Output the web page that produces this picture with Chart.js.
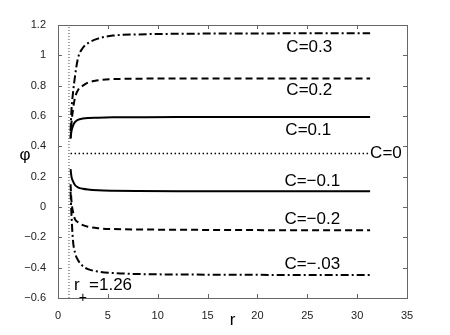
<!DOCTYPE html>
<html lang="en">
<head>
<meta charset="UTF-8">
<title>phi vs r</title>
<script src="https://cdn.jsdelivr.net/npm/chart.js"></script>
<style>
  html, body { margin: 0; padding: 0; background: #fff; }
  #wrap { width: 450px; height: 335px; }
</style>
</head>
<body>
<div id="wrap"><canvas id="phiChart"></canvas></div>
<script>
// radial positions shared by all curves
const rVals   = [1.26, 1.35, 1.5, 1.7, 2, 2.5, 3, 4, 5.5, 8, 12, 18, 25, 31.3];
const phiP03  = [0.50, 0.64, 0.75, 0.86, 0.98, 1.05, 1.08, 1.11, 1.13, 1.138, 1.142, 1.144, 1.145, 1.145];
const phiP02  = [0.45, 0.55, 0.64, 0.72, 0.77, 0.80, 0.82, 0.835, 0.843, 0.846, 0.847, 0.848, 0.848, 0.848];
const phiP01  = [0.455, 0.50, 0.535, 0.56, 0.575, 0.583, 0.587, 0.589, 0.591, 0.592, 0.593, 0.593, 0.593, 0.593];
const phiZero = [0.353, 0.353, 0.353, 0.353, 0.353, 0.353, 0.353, 0.353, 0.353, 0.353, 0.353, 0.353, 0.353, 0.353];
const phiM01  = [0.25, 0.20, 0.17, 0.145, 0.13, 0.12, 0.115, 0.11, 0.107, 0.105, 0.104, 0.104, 0.104, 0.104];
const phiM02  = [0.15, 0.04, -0.03, -0.08, -0.10, -0.12, -0.13, -0.14, -0.145, -0.148, -0.15, -0.152, -0.153, -0.153];
const phiM03  = [0.10, -0.05, -0.22, -0.30, -0.35, -0.39, -0.41, -0.425, -0.435, -0.442, -0.445, -0.447, -0.448, -0.448];

// vertical marker r = r+
const rPlus = 1.1;

const xTicks = [0, 5, 10, 15, 20, 25, 30, 35];
const yTicks = [-0.6, -0.4, -0.2, 0, 0.2, 0.4, 0.6, 0.8, 1, 1.2];

const pts = ys => rVals.map((r, i) => ({ x: r, y: ys[i] }));
const FONT = "'Liberation Sans', Arial, Helvetica, sans-serif";

function curve(ys, dash, width) {
  return {
    data: pts(ys),
    borderColor: '#000',
    borderWidth: width,
    borderDash: dash,
    pointRadius: 0,
    fill: false,
    cubicInterpolationMode: 'monotone'
  };
}

// text placed in data coordinates
const notes = [
  { text: 'C=0.3',  r: 25.2, phi: 1.055,  align: 'center' },
  { text: 'C=0.2',  r: 25.2, phi: 0.771,  align: 'center' },
  { text: 'C=0.1',  r: 25.1, phi: 0.507,  align: 'center' },
  { text: 'C=0',    r: 31.3, phi: 0.355,  align: 'left' },
  { text: 'C=\u22120.1', r: 25.5, phi: 0.170, align: 'center' },
  { text: 'C=\u22120.2', r: 25.5, phi: -0.081, align: 'center' },
  { text: 'C=\u2212.03', r: 25.5, phi: -0.378, align: 'center' },
  { text: 'r  =1.26', r: 1.6, phi: -0.518, align: 'left' }
];

const framePlugin = {
  id: 'frame',
  afterDatasetsDraw(chart) {
    const { ctx, chartArea: a, scales: { x, y } } = chart;
    ctx.save();
    ctx.strokeStyle = '#666';
    ctx.lineWidth = 1;
    ctx.strokeRect(a.left + 0.5, a.top + 0.5, a.right - a.left, a.bottom - a.top);
    ctx.beginPath();
    xTicks.forEach(v => {
      const px = Math.round(x.getPixelForValue(v)) + 0.5;
      ctx.moveTo(px, a.bottom); ctx.lineTo(px, a.bottom - 4);
      ctx.moveTo(px, a.top); ctx.lineTo(px, a.top + 4);
    });
    yTicks.forEach(v => {
      const py = Math.round(y.getPixelForValue(v)) + 0.5;
      ctx.moveTo(a.left, py); ctx.lineTo(a.left + 4, py);
      ctx.moveTo(a.right, py); ctx.lineTo(a.right - 4, py);
    });
    ctx.stroke();

    ctx.fillStyle = '#000';
    ctx.textBaseline = 'middle';
    ctx.font = '17px ' + FONT;
    notes.forEach(n => {
      ctx.textAlign = n.align;
      ctx.fillText(n.text, x.getPixelForValue(n.r), y.getPixelForValue(n.phi));
    });
    // subscript + of r+
    ctx.font = '14px ' + FONT;
    ctx.textAlign = 'center';
    ctx.fillText('+', x.getPixelForValue(2.5), y.getPixelForValue(-0.6));

    // axis titles
    ctx.font = '17px ' + FONT;
    ctx.fillText('r', (a.left + a.right) / 2, 320);
    ctx.fillText('\u03c6', 25, 155);
    ctx.restore();
  }
};

new Chart(document.getElementById('phiChart'), {
  type: 'line',
  data: {
    datasets: [
      curve(phiP03, [8, 3, 2, 3], 2),
      curve(phiP02, [7, 4], 2),
      curve(phiP01, [], 2),
      curve(phiZero, [1.5, 2.5], 1.5),
      curve(phiM01, [], 2),
      curve(phiM02, [7, 4], 2),
      curve(phiM03, [8, 3, 2, 3], 2),
      {
        data: [{ x: rPlus, y: yTicks[0] }, { x: rPlus, y: yTicks[yTicks.length - 1] }],
        borderColor: '#444',
        borderWidth: 1,
        borderDash: [1, 2],
        pointRadius: 0
      }
    ]
  },
  options: {
    responsive: true,
    maintainAspectRatio: false,
    animation: false,
    layout: { padding: { left: 0, top: 25, right: 43, bottom: 0 } },
    plugins: { legend: { display: false }, tooltip: { enabled: false } },
    scales: {
      x: {
        type: 'linear',
        min: 0, max: 35,
        grid: { display: false },
        border: { display: false },
        afterBuildTicks: s => { s.ticks = xTicks.map(v => ({ value: v })); },
        afterFit: s => { s.height = 37; },
        ticks: { color: '#222', padding: 3, font: { family: FONT, size: 11 }, maxRotation: 0 }
      },
      y: {
        type: 'linear',
        min: -0.6, max: 1.2,
        grid: { display: false },
        border: { display: false },
        afterBuildTicks: s => { s.ticks = yTicks.map(v => ({ value: v })); },
        afterFit: s => { s.width = 58; },
        ticks: {
          color: '#222', padding: 4, font: { family: FONT, size: 11 },
          callback: v => String(v).replace('-', '\u2212')
        }
      }
    }
  },
  plugins: [framePlugin]
});
</script>
</body>
</html>
